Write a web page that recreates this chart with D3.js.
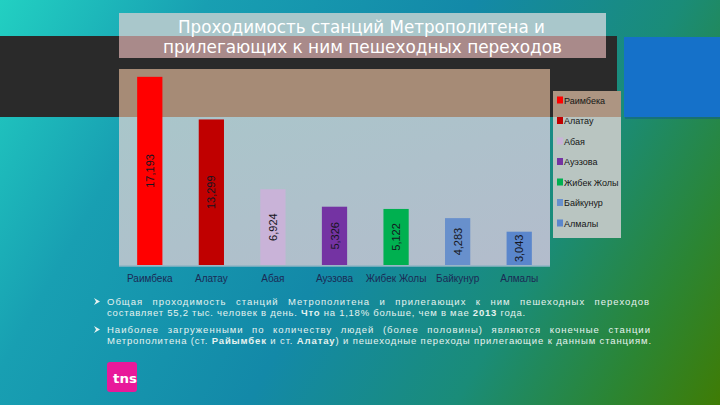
<!DOCTYPE html>
<html><head><meta charset="utf-8">
<script src="https://cdn.jsdelivr.net/npm/d3@7"></script>
<style>html,body{margin:0;padding:0;overflow:hidden;background:#1596ae}</style>
</head><body>
<svg id="c" width="720" height="405"></svg>
<script>
const categories = ["Раимбека","Алатау","Абая","Ауэзова","Жибек Жолы","Байкунур","Алмалы"];
const xLabels = ["Раимбека","Алатау","Абая","Ауэзова","Жибек Жолы","Байкунур","Алмалы"];
const values = [17193, 13299, 6924, 5326, 5122, 4283, 3043];
const colors = ["#ff0000","#c00000","#c9b3d8","#7433a3","#00b050","#6890cc","#5a86cc"];
const titleLines = ["Проходимость станций Метрополитена и","прилегающих к ним пешеходных переходов"];
const bullets = [
  [[{t:"Общая проходимость станций Метрополитена и прилегающих к ним пешеходных переходов"}],
   [{t:"составляет 55,2 тыс. человек в день. "},{t:"Что",b:1},{t:" на 1,18% больше, чем в мае "},{t:"2013",b:1},{t:" года."}]],
  [[{t:"Наиболее"},{t:" загруженными по количеству людей (более половины) являются конечные станции"}],
   [{t:"Метрополитена (ст. "},{t:"Райымбек",b:1},{t:" и ст. "},{t:"Алатау",b:1},{t:") и пешеходные переходы прилегающие к данным станциям."}]]
];

const svg = d3.select("#c");
const defs = svg.append("defs");
const g1 = defs.append("linearGradient").attr("id","bg").attr("x1","0").attr("y1","0").attr("x2","720").attr("y2","405").attr("gradientUnits","userSpaceOnUse");
[[0,"#22d0c2"],[0.22,"#189fb2"],[0.5,"#1389a8"],[0.72,"#1a8c78"],[0.88,"#2b8533"],[1,"#3f7c05"]].forEach(s=>g1.append("stop").attr("offset",s[0]).attr("stop-color",s[1]));
svg.append("rect").attr("width",720).attr("height",405).attr("fill","url(#bg)");

// dark band and blue block
svg.append("rect").attr("x",0).attr("y",36).attr("width",617).attr("height",81).attr("fill","#2a2a2a");
svg.append("rect").attr("x",625).attr("y",39).attr("width",95).attr("height",80).attr("fill","#0f5a8a").attr("opacity",0.5);
svg.append("rect").attr("x",624).attr("y",37).attr("width",96).attr("height",80).attr("fill","#1571c9");

// title box
svg.append("rect").attr("x",119).attr("y",13).attr("width",487).attr("height",23).attr("fill","#a9c7cb");
svg.append("rect").attr("x",119).attr("y",36).attr("width",487).attr("height",22).attr("fill","#a98a8a");
const tx = [[178,33,367],[163,53,399]];
titleLines.forEach((l,i)=>{
  svg.append("text").attr("x",tx[i][0]).attr("y",tx[i][1]).attr("textLength",tx[i][2]).attr("lengthAdjust","spacingAndGlyphs")
    .attr("font-family","DejaVu Sans").attr("font-size",17).attr("fill","#ffffff").text(l);
});

// plot area
const P = {l:119, r:550, t:69, b:266};
svg.append("rect").attr("x",P.l).attr("y",P.t).attr("width",P.r-P.l).attr("height",P.b-P.t).attr("fill","#abc3c9");
const g2 = defs.append("linearGradient").attr("id","pa").attr("x1",0).attr("y1",0).attr("x2",1).attr("y2",1);
g2.append("stop").attr("offset",0).attr("stop-color","#a9c6ca");
g2.append("stop").attr("offset",1).attr("stop-color","#b3bccc");
svg.append("rect").attr("x",P.l).attr("y",117).attr("width",P.r-P.l).attr("height",P.b-117).attr("fill","url(#pa)");
svg.append("rect").attr("x",P.l).attr("y",P.t).attr("width",P.r-P.l).attr("height",117-P.t).attr("fill","#a68b76");
svg.append("line").attr("x1",P.l).attr("x2",P.r).attr("y1",P.b).attr("y2",P.b).attr("stroke","#8fb4c4").attr("stroke-width",1.5);

const x = d3.scaleBand().domain(categories).range([P.l,P.r]).paddingInner(0.59).paddingOuter(0.295);
const y = d3.scaleLinear().domain([0,18000]).range([265,68]);
const fmt = d3.format(",");

svg.append("g").selectAll("rect").data(values).join("rect")
  .attr("x",(d,i)=>x(categories[i])).attr("width",x.bandwidth())
  .attr("y",d=>y(d)).attr("height",d=>y(0)-y(d)).attr("fill",(d,i)=>colors[i]);

svg.append("g").selectAll("text").data(values).join("text")
  .attr("transform",(d,i)=>`translate(${x(categories[i])+x.bandwidth()/2+4},${(y(d)+y(0))/2}) rotate(-90)`)
  .attr("text-anchor","middle").attr("font-family","Liberation Sans, Arial").attr("font-size",11)
  .attr("fill","#151520").text(d=>fmt(d));

// x axis labels
const xa = svg.append("g").attr("transform",`translate(0,${P.b})`).call(d3.axisBottom(x).tickSize(0).tickPadding(9).tickFormat((d,i)=>xLabels[i]));
xa.select(".domain").remove();
xa.selectAll("text").attr("font-family","Liberation Sans, Arial").attr("font-size",10).attr("fill","#1b2a55");

// legend
const L = {x:553,y:91,w:68,h:147};
svg.append("rect").attr("x",L.x).attr("y",L.y).attr("width",L.w).attr("height",L.h).attr("fill","#b9c5c1");
svg.append("rect").attr("x",L.x).attr("y",L.y).attr("width",L.w).attr("height",117-L.y).attr("fill","#ad9582");
const lg = svg.append("g").selectAll("g").data(categories).join("g")
  .attr("transform",(d,i)=>`translate(557,${100+i*20.5})`);
lg.append("rect").attr("x",0).attr("y",-3.5).attr("width",6).attr("height",7).attr("fill",(d,i)=>colors[i]);
lg.append("text").attr("x",7).attr("y",3.5).attr("font-family","Liberation Sans, Arial").attr("font-size",9).attr("fill","#151515").text(d=>d);

// bullets
const lines = [[305,650],[316,526],[333,651],[344,652]];
let li=0;
bullets.forEach((b,bi)=>{
  const by = lines[li][0];
  svg.append("path").attr("d",`M94,${by-7} L100,${by-3.5} L94,${by} L96,${by-3.5} Z`).attr("fill","#e8f2f0");
  b.forEach((line,k)=>{
    const [ly,lx2] = lines[li++];
    const t = svg.append("text").attr("x",107).attr("y",ly)
      .attr("font-family","Liberation Sans, Arial").attr("font-size",9.5).attr("fill","#e6f2ef");
    line.forEach(s=>t.append("tspan").attr("font-weight",s.b?"bold":"normal").text(s.t));
    const full = line.map(s=>s.t).join("");
    const nat = t.node().getComputedTextLength();
    const target = lx2-107;
    if (k===0) {
      const ls = 1.0;
      const spaces = (full.match(/ /g)||[]).length;
      const extra = target - nat - ls*full.length;
      t.attr("letter-spacing",ls).attr("word-spacing",(extra/spaces).toFixed(2));
    } else {
      t.attr("letter-spacing",((target-nat)/full.length).toFixed(3));
    }
  });
});

// tns logo
svg.append("rect").attr("x",107).attr("y",362).attr("width",30).attr("height",30).attr("rx",3).attr("fill","#e8199a");
svg.append("text").attr("x",113).attr("y",383).attr("font-family","DejaVu Sans").attr("font-weight","bold").attr("font-size",13)
  .attr("fill","#ffffff").attr("textLength",24).attr("lengthAdjust","spacingAndGlyphs").text("tns");
</script>
</body></html>
